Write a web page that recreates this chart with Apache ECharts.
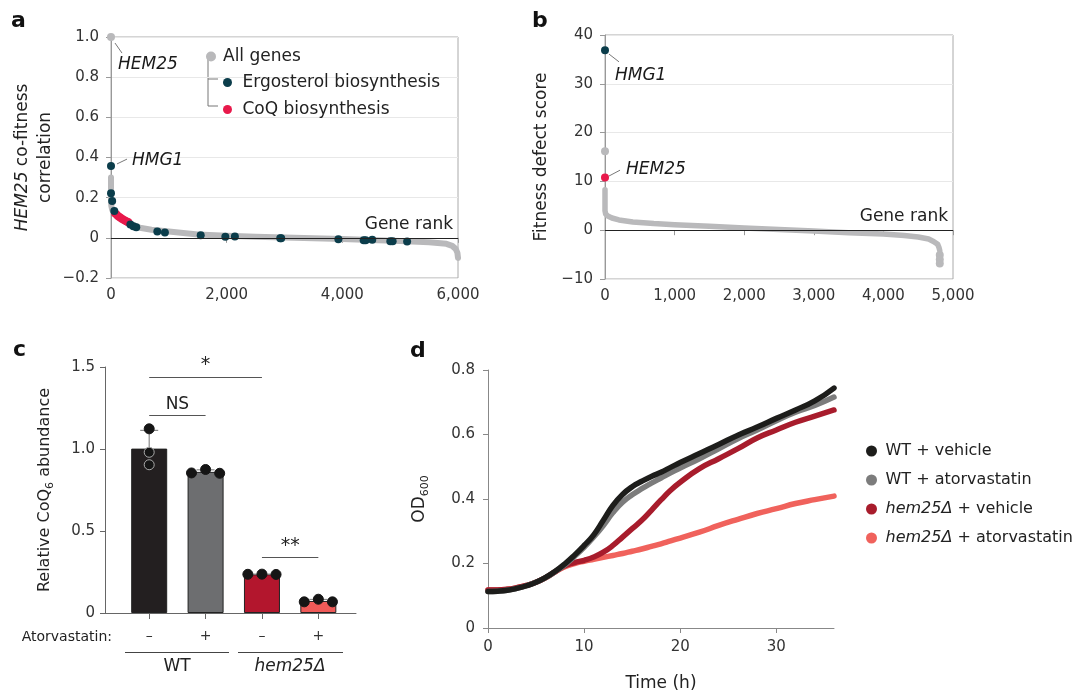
<!DOCTYPE html>
<html>
<head>
<meta charset="utf-8">
<script src="https://cdn.jsdelivr.net/npm/echarts@6/dist/echarts.min.js"></script>
<style>
  html, body { margin: 0; padding: 0; background: #fff; }
  #main { width: 1083px; height: 694px; }
</style>
</head>
<body>
<div id="main"></div>
<script>
// ---- panel a: HEM25 co-fitness correlation by gene rank ----
const rankA = [0, 0, 0, 5, 20, 50, 100, 150, 200, 300, 400, 500, 700, 1000, 1500, 2000, 2500, 3000, 3500, 4000, 4500, 5000, 5500, 5800, 5900, 5960, 5990, 6000];
const corrA = [0.30, 0.25, 0.20, 0.16, 0.14, 0.127, 0.113, 0.10, 0.09, 0.075, 0.062, 0.05, 0.04, 0.031, 0.017, 0.01, 0.006, 0.002, -0.002, -0.006, -0.011, -0.016, -0.022, -0.03, -0.04, -0.055, -0.075, -0.1];
const ergoRankA = [0, 0, 20, 57, 335, 386, 437, 801, 932, 1551, 1977, 2142, 2926, 2943, 3932, 4369, 4403, 4517, 4830, 4870, 5120];
const ergoCorrA = [0.358, 0.222, 0.183, 0.133, 0.067, 0.058, 0.053, 0.032, 0.027, 0.013, 0.005, 0.007, -0.002, -0.002, -0.007, -0.012, -0.012, -0.01, -0.017, -0.017, -0.018];
const coqRankA = [70, 95, 120, 145, 170, 195, 225, 255, 280, 300];
const coqCorrA = [0.122, 0.116, 0.109, 0.104, 0.099, 0.094, 0.089, 0.084, 0.080, 0.077];
const hem25A = [0, 1.0];

// ---- panel b: fitness defect score by gene rank ----
const rankB = [0, 0, 0, 10, 40, 100, 200, 400, 700, 1000, 1500, 2000, 2500, 3000, 3500, 4000, 4300, 4500, 4650, 4720, 4780, 4800, 4810];
const fitB = [8.3, 6, 4, 3.3, 2.9, 2.5, 2.1, 1.7, 1.35, 1.1, 0.8, 0.45, 0.15, -0.15, -0.5, -0.8, -1.1, -1.4, -1.8, -2.3, -2.9, -3.6, -4.2];
const extraRankB = [0, 4810, 4810, 4810];
const extraFitB = [16.2, -5.1, -6.0, -6.8];
const hmg1B = [0, 36.9];
const hem25B = [0, 10.8];

// ---- panel c: relative CoQ6 abundance ----
const atorvaSigns = ['–', '+', '–', '+'];
const coqReps = [
  [1.123, 0.98, 0.904],
  [0.854, 0.875, 0.852],
  [0.236, 0.237, 0.235],
  [0.068, 0.084, 0.068]
];
// [from group, to group, bracket height, label]
const sigPairs = [[1, 3, 1.439, '*'], [1, 2, 1.207, 'NS'], [3, 4, 0.341, '**']];

// ---- panel d: growth curves ----
const hours = [0, 1, 2, 3, 4, 5, 6, 7, 8, 9, 10, 11, 12, 13, 14, 15, 16, 17, 18, 19, 20, 22, 24, 26, 28, 30, 32, 34, 36];
const timeTicks = [0, 10, 20, 30];
const wtVehicle = [0.113, 0.114, 0.117, 0.123, 0.131, 0.142, 0.157, 0.176, 0.199, 0.226, 0.256, 0.289, 0.334, 0.38, 0.414, 0.438, 0.455, 0.47, 0.483, 0.498, 0.513, 0.541, 0.569, 0.598, 0.623, 0.65, 0.676, 0.704, 0.744];
const wtAtorva = [0.113, 0.114, 0.117, 0.123, 0.131, 0.142, 0.156, 0.175, 0.196, 0.222, 0.25, 0.282, 0.318, 0.358, 0.39, 0.413, 0.432, 0.449, 0.465, 0.481, 0.496, 0.525, 0.556, 0.587, 0.614, 0.643, 0.669, 0.69, 0.716];
const hemVehicle = [0.118, 0.118, 0.12, 0.125, 0.132, 0.142, 0.156, 0.175, 0.193, 0.203, 0.21, 0.22, 0.235, 0.256, 0.282, 0.308, 0.334, 0.365, 0.397, 0.427, 0.452, 0.494, 0.525, 0.556, 0.589, 0.614, 0.638, 0.657, 0.676];
const hemAtorva = [0.118, 0.118, 0.12, 0.125, 0.132, 0.142, 0.156, 0.174, 0.19, 0.2, 0.207, 0.213, 0.219, 0.225, 0.231, 0.238, 0.245, 0.253, 0.261, 0.27, 0.279, 0.297, 0.318, 0.337, 0.355, 0.37, 0.386, 0.398, 0.409];

const grey = '#b9b9bb';
const teal = '#0b3d4b';
const red = '#e8194b';
const barColors = ['#231f20', '#6d6e70', '#b3162d', '#ef5a58'];
const jitterC = [[0, 0, 0], [-0.25, 0, 0.25], [-0.25, 0, 0.25], [-0.25, 0, 0.25]];
const font = 'DejaVu Sans';

function pairs(xs, ys) {
  return xs.map(function (x, i) { return [x, ys[i]]; });
}
const means = coqReps.map(function (r) { return r.reduce((a, b) => a + b, 0) / r.length; });
const sds = coqReps.map(function (r, i) {
  const m = means[i];
  return Math.sqrt(r.reduce((a, b) => a + (b - m) * (b - m), 0) / (r.length - 1));
});
const fmt1 = function (v) { return v === 0 ? '0' : (v < 0 ? '−' + (-v).toFixed(1) : v.toFixed(1)); };
const fmtInt = function (v) { return v === 0 ? '0' : (v < 0 ? '−' + (-v) : String(v)); };
const fmtK = function (v) { return v.toLocaleString('en-US'); };

const labelStyle = { color: '#333', fontSize: 15, fontFamily: font };
const greyAxis = { lineStyle: { color: '#999', width: 1 } };

function zeroLine(text) {
  return {
    silent: true, symbol: ['none', 'none'],
    lineStyle: { color: '#222', width: 1, type: 'solid' },
    data: [{ yAxis: 0, label: { show: true, position: 'insideEndTop', formatter: text, fontSize: 17, color: '#222', distance: 5 } }]
  };
}
function leaders(segs) {
  return {
    silent: true, symbol: ['none', 'none'],
    lineStyle: { color: '#555', width: 0.8, type: 'solid' },
    label: { show: false },
    data: segs.map(s => [{ coord: s[0] }, { coord: s[1] }])
  };
}
function nameLabel(text, pos) {
  return { show: true, formatter: text, position: pos, align: 'left', verticalAlign: 'middle',
           fontStyle: 'italic', fontSize: 17, color: '#1a1a1a' };
}
function dot(color) {
  return { color: color, opacity: 1 };
}

const chart = echarts.init(document.getElementById('main'));

const option = {
  backgroundColor: '#fff',
  animation: false,
  textStyle: { fontFamily: font },
  title: [
    { text: 'a', left: 11, top: 10, padding: 0, textStyle: { fontSize: 22, fontWeight: 'bold', color: '#111' } },
    { text: 'b', left: 532, top: 10, padding: 0, textStyle: { fontSize: 22, fontWeight: 'bold', color: '#111' } },
    { text: 'c', left: 13, top: 339, padding: 0, textStyle: { fontSize: 22, fontWeight: 'bold', color: '#111' } },
    { text: 'd', left: 410, top: 340, padding: 0, textStyle: { fontSize: 22, fontWeight: 'bold', color: '#111' } }
  ],
  legend: [
    { data: ['All genes'], left: 201, top: 43, icon: 'circle', itemWidth: 14, itemHeight: 10, selectedMode: false,
      textStyle: { fontSize: 17, color: '#222' } },
    { data: ['Ergosterol biosynthesis'], left: 218, top: 69, icon: 'circle', itemWidth: 20, itemHeight: 9, selectedMode: false,
      textStyle: { fontSize: 17, color: '#222' } },
    { data: ['CoQ biosynthesis'], left: 218, top: 96, icon: 'circle', itemWidth: 20, itemHeight: 9, selectedMode: false,
      textStyle: { fontSize: 17, color: '#222' } },
    { data: ['WT + vehicle', 'WT + atorvastatin', 'hem25Δ + vehicle', 'hem25Δ + atorvastatin'],
      orient: 'vertical', left: 861, top: 438, icon: 'circle', itemWidth: 18, itemHeight: 11, itemGap: 13,
      selectedMode: false,
      formatter: function (n) { return n.indexOf('hem25Δ') === 0 ? '{i|hem25Δ}' + n.slice(6) : n; },
      textStyle: { fontSize: 16, color: '#222', rich: { i: { fontStyle: 'italic', fontSize: 16, color: '#222' } } } }
  ],
  grid: [
    { left: 111, top: 37, width: 347, height: 241, show: true, borderColor: '#aaa', borderWidth: 1 },
    { left: 605, top: 35, width: 348, height: 244, show: true, borderColor: '#aaa', borderWidth: 1 },
    { left: 105, top: 367, width: 251, height: 246 },
    { left: 488, top: 370, width: 346, height: 258 }
  ],
  xAxis: [
    { gridIndex: 0, type: 'value', min: 0, max: 6000, interval: 2000,
      axisLine: greyAxis, axisTick: { length: 5, lineStyle: { color: '#999' } },
      axisLabel: Object.assign({ margin: 10, formatter: fmtK }, labelStyle), splitLine: { show: false } },
    { gridIndex: 1, type: 'value', min: 0, max: 5000, interval: 1000,
      axisLine: greyAxis, axisTick: { length: 5, lineStyle: { color: '#999' } },
      axisLabel: Object.assign({ margin: 10, formatter: fmtK }, labelStyle), splitLine: { show: false } },
    { gridIndex: 2, type: 'value', min: 0.216, max: 4.668,
      axisLine: { lineStyle: { color: '#666', width: 1 } },
      axisTick: { customValues: [1, 2, 3, 4], length: 6, lineStyle: { color: '#666' } },
      axisLabel: Object.assign({ customValues: [1, 2, 3, 4], margin: 16,
        formatter: function (v) { return atorvaSigns[Math.round(v) - 1]; } }, labelStyle, { fontSize: 14 }),
      splitLine: { show: false } },
    { gridIndex: 3, type: 'value', min: 0, max: 36,
      name: 'Time (h)', nameLocation: 'middle', nameGap: 47,
      nameTextStyle: { fontSize: 17, color: '#222' },
      axisLine: { lineStyle: { color: '#888', width: 1 } },
      axisTick: { customValues: timeTicks, length: 5, lineStyle: { color: '#888' } },
      axisLabel: Object.assign({ customValues: timeTicks, margin: 12 }, labelStyle), splitLine: { show: false } }
  ],
  yAxis: [
    { gridIndex: 0, type: 'value', min: -0.2, max: 1.0, interval: 0.2,
      name: '{i|HEM25} co-fitness\ncorrelation', nameLocation: 'middle', nameGap: 54,
      nameTextStyle: { fontSize: 17, color: '#222', lineHeight: 23, rich: { i: { fontStyle: 'italic', fontSize: 17, lineHeight: 23, color: '#222' } } },
      axisLine: { show: true, lineStyle: { color: '#999' } }, axisTick: { show: true, length: 5, lineStyle: { color: '#999' } },
      axisLabel: Object.assign({ margin: 12, formatter: fmt1 }, labelStyle),
      splitLine: { lineStyle: { color: '#e8e8e8' } } },
    { gridIndex: 1, type: 'value', min: -10, max: 40, interval: 10,
      name: 'Fitness defect score', nameLocation: 'middle', nameGap: 53,
      nameTextStyle: { fontSize: 17, color: '#222', lineHeight: 20 },
      axisLine: { show: true, lineStyle: { color: '#999' } }, axisTick: { show: true, length: 5, lineStyle: { color: '#999' } },
      axisLabel: Object.assign({ margin: 12, formatter: fmtInt }, labelStyle),
      splitLine: { lineStyle: { color: '#e8e8e8' } } },
    { gridIndex: 2, type: 'value', min: 0, max: 1.5, interval: 0.5,
      name: 'Relative CoQ{sub|6} abundance', nameLocation: 'middle', nameGap: 49,
      nameTextStyle: { fontSize: 16, color: '#222', lineHeight: 22,
        rich: { sub: { fontSize: 11, lineHeight: 11, verticalAlign: 'bottom', color: '#222' } } },
      axisLine: { show: true, lineStyle: { color: '#666' } }, axisTick: { show: true, length: 5, lineStyle: { color: '#666' } },
      axisLabel: Object.assign({ margin: 10, formatter: fmt1 }, labelStyle),
      splitLine: { show: false } },
    { gridIndex: 3, type: 'value', min: 0, max: 0.8, interval: 0.2,
      name: 'OD{sub|600}', nameLocation: 'middle', nameGap: 57,
      nameTextStyle: { fontSize: 17, color: '#222', lineHeight: 22,
        rich: { sub: { fontSize: 11, lineHeight: 11, verticalAlign: 'bottom', color: '#222' } } },
      axisLine: { show: true, lineStyle: { color: '#888' } }, axisTick: { show: true, length: 5, lineStyle: { color: '#888' } },
      axisLabel: Object.assign({ margin: 13, formatter: fmt1 }, labelStyle),
      splitLine: { show: false } }
  ],
  graphic: [
    // legend bracket (panel a)
    { type: 'polyline', shape: { points: [[208, 58], [208, 106], [218, 106]] }, style: { stroke: '#777', fill: null, lineWidth: 1 } },
    { type: 'line', shape: { x1: 208, y1: 79, x2: 218, y2: 79 }, style: { stroke: '#777', lineWidth: 1 } },
    // group annotations (panel c)
    { type: 'text', x: 112, y: 637, style: { text: 'Atorvastatin:', font: '14px "DejaVu Sans"', fill: '#222', align: 'right', verticalAlign: 'middle' } },
    { type: 'line', shape: { x1: 125, y1: 652.5, x2: 229, y2: 652.5 }, style: { stroke: '#444', lineWidth: 1 } },
    { type: 'line', shape: { x1: 238, y1: 652.5, x2: 343, y2: 652.5 }, style: { stroke: '#444', lineWidth: 1 } },
    { type: 'text', x: 177, y: 667, style: { text: 'WT', font: '17px "DejaVu Sans"', fill: '#222', align: 'center', verticalAlign: 'middle' } },
    { type: 'text', x: 290, y: 667, style: { text: 'hem25Δ', font: 'italic 17px "DejaVu Sans"', fill: '#222', align: 'center', verticalAlign: 'middle' } }
  ],
  series: [
    // ---- a ----
    { name: 'All genes', type: 'line', xAxisIndex: 0, yAxisIndex: 0, data: pairs(rankA, corrA),
      showSymbol: false, color: grey, lineStyle: { color: grey, width: 6, cap: 'round', join: 'round' }, z: 2,
      markLine: zeroLine('Gene rank') },
    { name: 'HEM25 a', type: 'scatter', xAxisIndex: 0, yAxisIndex: 0, symbolSize: 8, itemStyle: dot(grey), z: 3,
      data: [{ value: hem25A, label: nameLabel('HEM25', [11, 31.5]) }],
      markLine: leaders([[[69, 0.97], [190, 0.92]], [[104, 0.368], [277, 0.392]]]) },
    { name: 'CoQ biosynthesis', type: 'scatter', xAxisIndex: 0, yAxisIndex: 0, symbolSize: 8, itemStyle: dot(red), z: 3,
      data: pairs(coqRankA, coqCorrA) },
    { name: 'Ergosterol biosynthesis', type: 'scatter', xAxisIndex: 0, yAxisIndex: 0, symbolSize: 8, itemStyle: dot(teal), z: 4,
      data: pairs(ergoRankA, ergoCorrA).map(function (p, i) {
        return i === 0 ? { value: p, label: nameLabel('HMG1', [25, -1]) } : p;
      }) },
    // ---- b ----
    { name: 'fitness b', type: 'line', xAxisIndex: 1, yAxisIndex: 1, data: pairs(rankB, fitB),
      showSymbol: false, color: grey, lineStyle: { color: grey, width: 5.5, cap: 'round', join: 'round' }, z: 2,
      markLine: zeroLine('Gene rank') },
    { name: 'outliers b', type: 'scatter', xAxisIndex: 1, yAxisIndex: 1, symbolSize: 8, itemStyle: dot(grey), z: 3,
      data: pairs(extraRankB, extraFitB) },
    { name: 'HMG1 b', type: 'scatter', xAxisIndex: 1, yAxisIndex: 1, symbolSize: 8, itemStyle: dot(teal), z: 4,
      data: [{ value: hmg1B, label: nameLabel('HMG1', [14, 29.5]) }],
      markLine: leaders([[[57, 36.1], [201, 34.5]], [[57, 11.1], [216, 12.3]]]) },
    { name: 'HEM25 b', type: 'scatter', xAxisIndex: 1, yAxisIndex: 1, symbolSize: 8, itemStyle: dot(red), z: 4,
      data: [{ value: hem25B, label: nameLabel('HEM25', [25, -4]) }] },
    // ---- c ----
    { name: 'CoQ6', type: 'bar', xAxisIndex: 2, yAxisIndex: 2, barWidth: 36,
      itemStyle: { borderColor: '#222', borderWidth: 1 },
      data: means.map(function (m, i) { return { value: [i + 1, m], itemStyle: { color: barColors[i] } }; }),
      markLine: {
        silent: true, symbol: ['none', 'none'],
        lineStyle: { color: '#555', width: 1, type: 'solid' },
        data: sigPairs.map(function (s) {
          return [{ coord: [s[0], s[2]], label: { show: true, position: 'insideMiddleTop', distance: 2, formatter: s[3],
                     fontSize: s[3] === 'NS' ? 17 : 19, color: '#222' } },
                  { coord: [s[1], s[2]] }];
        })
      } },
    { name: 'sd', type: 'custom', xAxisIndex: 2, yAxisIndex: 2, z: 3,
      data: means.map(function (m, i) { return [i + 1, m, sds[i]]; }),
      renderItem: function (params, api) {
        const p0 = api.coord([api.value(0), api.value(1)]);
        const p1 = api.coord([api.value(0), api.value(1) + api.value(2)]);
        return { type: 'group', children: [
          { type: 'line', shape: { x1: p0[0], y1: p0[1], x2: p1[0], y2: p1[1] }, style: { stroke: '#8a8a8a', lineWidth: 1.2 } },
          { type: 'line', shape: { x1: p1[0] - 9, y1: p1[1], x2: p1[0] + 9, y2: p1[1] }, style: { stroke: '#8a8a8a', lineWidth: 1.2 } }
        ] };
      } },
    { name: 'reps', type: 'scatter', xAxisIndex: 2, yAxisIndex: 2, symbolSize: 10, z: 4,
      data: [].concat.apply([], coqReps.map(function (r, g) {
        return r.map(function (v, j) {
          const inside = g === 0 && v < means[g];
          return { value: [g + 1 + jitterC[g][j], v],
                   itemStyle: { color: '#151515', opacity: 1, borderColor: inside ? '#aaa' : '#151515', borderWidth: 1 } };
        });
      })) },
    // ---- d ----
    { name: 'hem25Δ + atorvastatin', type: 'line', xAxisIndex: 3, yAxisIndex: 3, data: pairs(hours, hemAtorva),
      smooth: true, showSymbol: false, color: '#f0625c', lineStyle: { width: 5.5, cap: 'round' }, z: 2 },
    { name: 'hem25Δ + vehicle', type: 'line', xAxisIndex: 3, yAxisIndex: 3, data: pairs(hours, hemVehicle),
      smooth: true, showSymbol: false, color: '#a81c2c', lineStyle: { width: 5.5, cap: 'round' }, z: 3 },
    { name: 'WT + atorvastatin', type: 'line', xAxisIndex: 3, yAxisIndex: 3, data: pairs(hours, wtAtorva),
      smooth: true, showSymbol: false, color: '#7c7c7c', lineStyle: { width: 5.5, cap: 'round' }, z: 4 },
    { name: 'WT + vehicle', type: 'line', xAxisIndex: 3, yAxisIndex: 3, data: pairs(hours, wtVehicle),
      smooth: true, showSymbol: false, color: '#1d1d1b', lineStyle: { width: 5.5, cap: 'round' }, z: 5 }
  ]
};

chart.setOption(option);
</script>
</body>
</html>
